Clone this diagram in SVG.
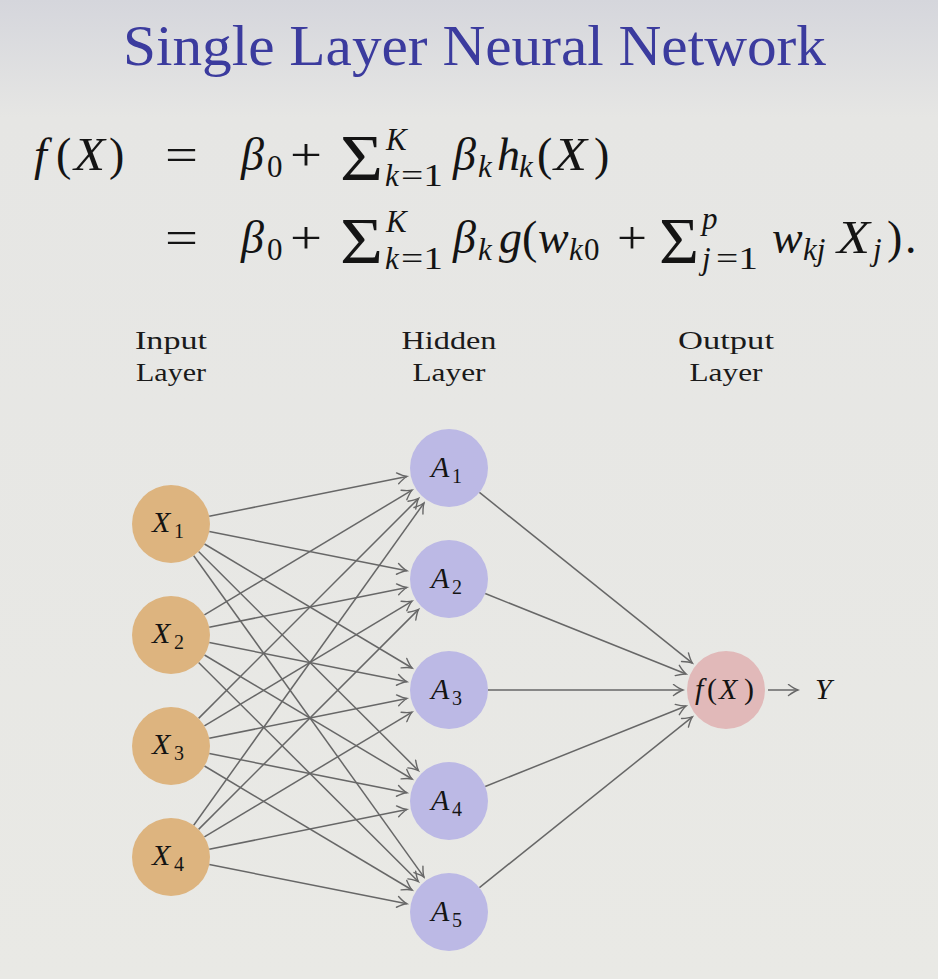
<svg xmlns="http://www.w3.org/2000/svg" width="938" height="979" viewBox="0 0 938 979">
<defs>
<linearGradient id="bg" x1="0" y1="0" x2="0" y2="1">
<stop offset="0" stop-color="#d5d6dc"/>
<stop offset="0.12" stop-color="#e6e6e4"/>
<stop offset="1" stop-color="#e9e9e5"/>
</linearGradient>
<marker id="ah" markerWidth="13" markerHeight="13" refX="11" refY="6.5" orient="auto" markerUnits="userSpaceOnUse">
<path d="M1.5,1 Q7.5,5.4 11,6.5 Q7.5,7.6 1.5,12" fill="none" stroke="#676767" stroke-width="1.4" stroke-linecap="round"/>
</marker>
<style>
.t{font-family:"Liberation Serif","DejaVu Serif",serif;fill:#141414}
.i{font-style:italic}
.m{font-size:46px}
.s{font-size:31px}
.lab{font-family:"Liberation Serif","DejaVu Serif",serif;font-size:25px;fill:#1a1a1a;text-anchor:middle}
.nl{font-family:"Liberation Serif","DejaVu Serif",serif;font-size:30px;fill:#141414}
.ns{font-family:"Liberation Serif","DejaVu Serif",serif;font-size:20px;fill:#141414}
.in{fill:#ddb47f}
.hid{fill:#bcb9e5}
.out{fill:#e1b9b9}
.c line{stroke:#676767;stroke-width:1.5;marker-end:url(#ah)}
</style>
</defs>
<rect width="938" height="979" fill="url(#bg)"/>

<text x="123" y="65" font-family="Liberation Serif, DejaVu Serif, serif" font-size="58" fill="#3b3b9e" textLength="703" lengthAdjust="spacingAndGlyphs">Single Layer Neural Network</text>

<g id="equation" class="t">
<text class="m i" x="34" y="170">f</text>
<text class="m" x="56" y="170">(</text>
<text class="m i" x="74" y="170" textLength="31" lengthAdjust="spacingAndGlyphs">X</text>
<text class="m" x="109" y="170">)</text>
<text class="m" x="165" y="170" textLength="33" lengthAdjust="spacingAndGlyphs">=</text>
<text class="m i" x="241" y="170">β</text>
<text class="s" x="267" y="177">0</text>
<text class="m" x="290" y="170" textLength="32" lengthAdjust="spacingAndGlyphs">+</text>
<text x="340" y="180" font-size="66" textLength="43" lengthAdjust="spacingAndGlyphs">Σ</text>
<text class="s i" x="386" y="150">K</text>
<text class="s i" x="385" y="186">k</text>
<text class="s" x="401" y="186" textLength="42" lengthAdjust="spacingAndGlyphs">=1</text>
<text class="m i" x="453" y="170">β</text>
<text class="s i" x="478" y="177">k</text>
<text class="m i" x="497" y="170">h</text>
<text class="s i" x="519" y="177">k</text>
<text class="m" x="537" y="170">(</text>
<text class="m i" x="554" y="170" textLength="33" lengthAdjust="spacingAndGlyphs">X</text>
<text class="m" x="594" y="170">)</text>

<text class="m" x="165" y="253" textLength="33" lengthAdjust="spacingAndGlyphs">=</text>
<text class="m i" x="241" y="253">β</text>
<text class="s" x="267" y="260">0</text>
<text class="m" x="290" y="253" textLength="32" lengthAdjust="spacingAndGlyphs">+</text>
<text x="340" y="263" font-size="66" textLength="43" lengthAdjust="spacingAndGlyphs">Σ</text>
<text class="s i" x="386" y="232">K</text>
<text class="s i" x="385" y="269">k</text>
<text class="s" x="401" y="269" textLength="42" lengthAdjust="spacingAndGlyphs">=1</text>
<text class="m i" x="453" y="253">β</text>
<text class="s i" x="478" y="260">k</text>
<text class="m i" x="499" y="253">g</text>
<text class="m" x="522" y="253">(</text>
<text class="m i" x="538" y="253">w</text>
<text class="s i" x="569" y="260">k</text>
<text class="s" x="584" y="260">0</text>
<text class="m" x="617" y="253" textLength="30" lengthAdjust="spacingAndGlyphs">+</text>
<text x="659" y="263" font-size="66" textLength="40" lengthAdjust="spacingAndGlyphs">Σ</text>
<text class="s i" x="702" y="229">p</text>
<text class="s i" x="702" y="269">j</text>
<text class="s" x="716" y="269" textLength="42" lengthAdjust="spacingAndGlyphs">=1</text>
<text class="m i" x="772" y="253">w</text>
<text class="s i" x="803" y="260">kj</text>
<text class="m i" x="837" y="253" textLength="33" lengthAdjust="spacingAndGlyphs">X</text>
<text class="s i" x="873" y="260">j</text>
<text class="m" x="887" y="253">)</text>
<text class="m" x="905" y="253">.</text>
</g>

<g id="layer-labels">
<text class="lab" x="171" y="349" textLength="72" lengthAdjust="spacingAndGlyphs">Input</text>
<text class="lab" x="171" y="381" textLength="70" lengthAdjust="spacingAndGlyphs">Layer</text>
<text class="lab" x="449" y="349" textLength="95" lengthAdjust="spacingAndGlyphs">Hidden</text>
<text class="lab" x="449" y="381" textLength="73" lengthAdjust="spacingAndGlyphs">Layer</text>
<text class="lab" x="726" y="349" textLength="96" lengthAdjust="spacingAndGlyphs">Output</text>
<text class="lab" x="726" y="381" textLength="73" lengthAdjust="spacingAndGlyphs">Layer</text>
</g>

<g id="connectors" class="c">
<line x1="209.2" y1="516.3" x2="406.9" y2="476.5"/>
<line x1="209.3" y1="531.6" x2="406.8" y2="570.7"/>
<line x1="204.5" y1="544.0" x2="412.1" y2="668.0"/>
<line x1="198.6" y1="551.5" x2="418.5" y2="770.7"/>
<line x1="193.7" y1="555.7" x2="424.0" y2="877.1"/>
<line x1="204.4" y1="614.9" x2="412.1" y2="490.1"/>
<line x1="209.2" y1="627.3" x2="406.9" y2="587.5"/>
<line x1="209.3" y1="642.6" x2="406.8" y2="681.7"/>
<line x1="204.5" y1="655.0" x2="412.1" y2="779.0"/>
<line x1="198.6" y1="662.5" x2="418.5" y2="881.7"/>
<line x1="198.6" y1="718.4" x2="418.6" y2="498.4"/>
<line x1="204.4" y1="725.9" x2="412.1" y2="601.1"/>
<line x1="209.2" y1="738.3" x2="406.9" y2="698.5"/>
<line x1="209.3" y1="753.6" x2="406.8" y2="792.7"/>
<line x1="204.5" y1="766.0" x2="412.1" y2="890.0"/>
<line x1="193.7" y1="825.3" x2="424.0" y2="503.0"/>
<line x1="198.6" y1="829.4" x2="418.6" y2="609.4"/>
<line x1="204.4" y1="836.9" x2="412.1" y2="712.1"/>
<line x1="209.2" y1="849.3" x2="406.9" y2="809.5"/>
<line x1="209.3" y1="864.6" x2="406.8" y2="903.7"/>
<line x1="479.4" y1="492.4" x2="692.4" y2="663.1"/>
<line x1="485.2" y1="593.5" x2="686.1" y2="674.0"/>
<line x1="488" y1="690" x2="683" y2="690"/>
<line x1="485.2" y1="786.5" x2="686.1" y2="706.0"/>
<line x1="479.4" y1="887.6" x2="692.4" y2="716.9"/>
<line x1="768" y1="690" x2="798" y2="690"/>
</g>

<g id="X1"><circle class="in" cx="171" cy="524" r="39"/><text class="nl i" x="152" y="532">X</text><text class="ns" x="174" y="538">1</text></g>
<g id="X2"><circle class="in" cx="171" cy="635" r="39"/><text class="nl i" x="152" y="643">X</text><text class="ns" x="174" y="649">2</text></g>
<g id="X3"><circle class="in" cx="171" cy="746" r="39"/><text class="nl i" x="152" y="754">X</text><text class="ns" x="174" y="760">3</text></g>
<g id="X4"><circle class="in" cx="171" cy="857" r="39"/><text class="nl i" x="152" y="865">X</text><text class="ns" x="174" y="871">4</text></g>

<g id="A1"><circle class="hid" cx="449" cy="468" r="39"/><text class="nl i" x="431" y="477">A</text><text class="ns" x="452" y="483">1</text></g>
<g id="A2"><circle class="hid" cx="449" cy="579" r="39"/><text class="nl i" x="431" y="588">A</text><text class="ns" x="452" y="594">2</text></g>
<g id="A3"><circle class="hid" cx="449" cy="690" r="39"/><text class="nl i" x="431" y="699">A</text><text class="ns" x="452" y="705">3</text></g>
<g id="A4"><circle class="hid" cx="449" cy="801" r="39"/><text class="nl i" x="431" y="810">A</text><text class="ns" x="452" y="816">4</text></g>
<g id="A5"><circle class="hid" cx="449" cy="912" r="39"/><text class="nl i" x="431" y="921">A</text><text class="ns" x="452" y="927">5</text></g>

<g id="output"><circle class="out" cx="726" cy="690" r="39"/><text class="nl i" x="695" y="699">f</text><text class="nl" x="707" y="699">(</text><text class="nl i" x="719" y="699">X</text><text class="nl" x="744" y="699">)</text></g>
<g id="Y"><text class="nl i" x="815" y="699">Y</text></g>
</svg>
